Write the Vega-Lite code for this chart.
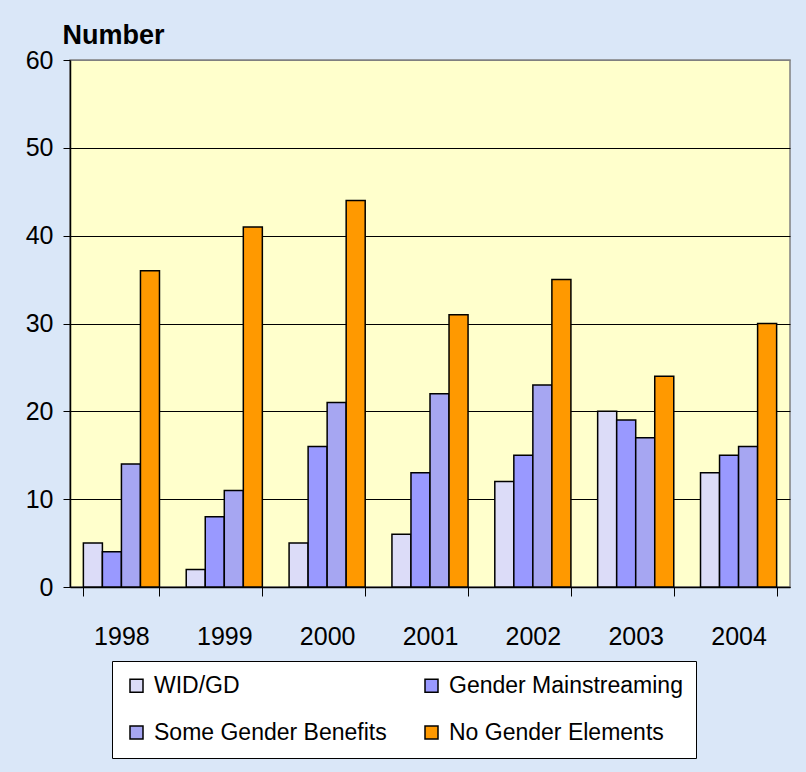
{
  "$schema": "https://vega.github.io/schema/vega-lite/v6.json",
  "width": 720,
  "height": 527,
  "autosize": "none",
  "padding": {"left": 70, "top": 60, "right": 16, "bottom": 185},
  "background": "#DAE7F8",
  "config": {
    "font": "Liberation Sans",
    "view": {"fill": "#FFFFCC", "stroke": "#808080", "strokeWidth": 1.5}
  },
  "data": {
    "values": [
      {"year": "1998", "category": "WID/GD", "value": 5},
      {"year": "1998", "category": "Gender Mainstreaming", "value": 4},
      {"year": "1998", "category": "Some Gender  Benefits", "value": 14},
      {"year": "1998", "category": "No Gender Elements", "value": 36},
      {"year": "1999", "category": "WID/GD", "value": 2},
      {"year": "1999", "category": "Gender Mainstreaming", "value": 8},
      {"year": "1999", "category": "Some Gender  Benefits", "value": 11},
      {"year": "1999", "category": "No Gender Elements", "value": 41},
      {"year": "2000", "category": "WID/GD", "value": 5},
      {"year": "2000", "category": "Gender Mainstreaming", "value": 16},
      {"year": "2000", "category": "Some Gender  Benefits", "value": 21},
      {"year": "2000", "category": "No Gender Elements", "value": 44},
      {"year": "2001", "category": "WID/GD", "value": 6},
      {"year": "2001", "category": "Gender Mainstreaming", "value": 13},
      {"year": "2001", "category": "Some Gender  Benefits", "value": 22},
      {"year": "2001", "category": "No Gender Elements", "value": 31},
      {"year": "2002", "category": "WID/GD", "value": 12},
      {"year": "2002", "category": "Gender Mainstreaming", "value": 15},
      {"year": "2002", "category": "Some Gender  Benefits", "value": 23},
      {"year": "2002", "category": "No Gender Elements", "value": 35},
      {"year": "2003", "category": "WID/GD", "value": 20},
      {"year": "2003", "category": "Gender Mainstreaming", "value": 19},
      {"year": "2003", "category": "Some Gender  Benefits", "value": 17},
      {"year": "2003", "category": "No Gender Elements", "value": 24},
      {"year": "2004", "category": "WID/GD", "value": 13},
      {"year": "2004", "category": "Gender Mainstreaming", "value": 15},
      {"year": "2004", "category": "Some Gender  Benefits", "value": 16},
      {"year": "2004", "category": "No Gender Elements", "value": 30}
    ]
  },
  "mark": {"type": "bar", "stroke": "black", "strokeWidth": 1.5},
  "encoding": {
    "x": {
      "field": "year",
      "type": "nominal",
      "scale": {"paddingInner": 0.26, "paddingOuter": 0.13},
      "axis": {
        "title": null,
        "labelAngle": 0,
        "labelFontSize": 25,
        "labelColor": "black",
        "labelPadding": 28,
        "tickSize": 9,
        "tickColor": "black",
        "tickBand": "extent",
        "domainColor": "black",
        "domainWidth": 1.5
      }
    },
    "xOffset": {
      "field": "category",
      "type": "nominal",
      "sort": ["WID/GD", "Gender Mainstreaming", "Some Gender  Benefits", "No Gender Elements"],
      "scale": {"paddingInner": 0, "paddingOuter": 0}
    },
    "y": {
      "field": "value",
      "type": "quantitative",
      "scale": {"domain": [0, 60]},
      "axis": {
        "title": "Number",
        "titleAngle": 0,
        "titleAlign": "left",
        "titleBaseline": "alphabetic",
        "titleX": -8,
        "titleY": -17,
        "titleFontSize": 27,
        "titleFontWeight": "bold",
        "titleColor": "black",
        "values": [0, 10, 20, 30, 40, 50, 60],
        "labelFontSize": 25,
        "labelColor": "black",
        "labelPadding": 10,
        "tickSize": 7,
        "tickColor": "black",
        "domainColor": "black",
        "domainWidth": 1.5,
        "grid": true,
        "gridColor": {"condition": {"test": "datum.value == 60", "value": "#808080"}, "value": "black"},
        "gridWidth": 1
      }
    },
    "color": {
      "field": "category",
      "type": "nominal",
      "sort": ["WID/GD", "Gender Mainstreaming", "Some Gender  Benefits", "No Gender Elements"],
      "scale": {
        "domain": ["WID/GD", "Gender Mainstreaming", "Some Gender  Benefits", "No Gender Elements"],
        "range": ["#DCDCF8", "#9999FF", "#A6A6F2", "#FF9900"]
      },
      "legend": {
        "title": null,
        "orient": "none",
        "direction": "horizontal",
        "legendX": 42,
        "legendY": 601,
        "columns": 2,
        "columnPadding": 26,
        "rowPadding": 23,
        "padding": 13,
        "fillColor": "white",
        "strokeColor": "black",
        "symbolType": "square",
        "symbolSize": 169,
        "symbolStrokeColor": "black",
        "symbolStrokeWidth": 1.5,
        "labelFontSize": 23,
        "labelColor": "black",
        "labelOffset": 6,
        "labelLimit": 400
      }
    }
  }
}
